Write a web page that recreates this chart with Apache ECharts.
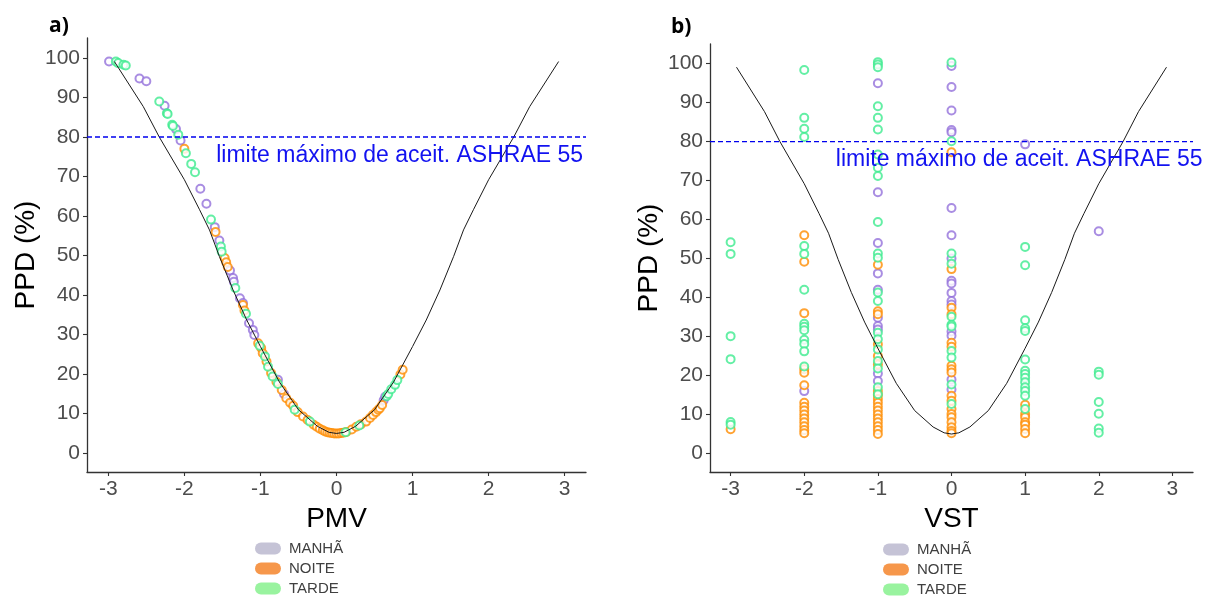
<!DOCTYPE html>
<html>
<head>
<meta charset="utf-8">
<script src="https://cdn.jsdelivr.net/npm/echarts@6/dist/echarts.min.js"></script>
<style>html,body{margin:0;padding:0;background:#fff;}#c{width:1213px;height:600px;}</style>
</head>
<body>
<div id="c"></div>
<script>
// ---- tick labels ----
const xTicks = [-3, -2, -1, 0, 1, 2, 3];
const yTicks = [0, 10, 20, 30, 40, 50, 60, 70, 80, 90, 100];
const groups = ['MANHÃ', 'NOITE', 'TARDE'];
const xRange = [-3.28, 3.28];
const yRange = [-4.75, 105.05];

// ---- reference curve ----
const curveX = [-2.92, -2.54, -2.33, -2.0, -1.8, -1.67, -1.54, -1.36, -1.18, -1.0, -0.75, -0.5, -0.25, -0.1, 0,
                0.1, 0.25, 0.5, 0.75, 1.0, 1.18, 1.36, 1.54, 1.67, 1.8, 2.0, 2.33, 2.54, 2.92];
const curveY = [99.1, 87.7, 80, 69.2, 61.6, 56.5, 49.8, 41.3, 33.7, 27, 18, 11, 6.8, 5.3, 5,
                5.3, 6.8, 11, 18, 27, 33.7, 41.3, 49.8, 56.5, 61.6, 69.2, 80, 87.7, 99.1];
const limitValue = 80;
const limitText = 'limite máximo de aceit. ASHRAE 55';

// ---- panel a) PMV vs PPD ----
const pmvManha = [[-2.99,99.1],[-2.59,94.8],[-2.50,94.1],[-2.26,87.9],[-2.11,82],[-2.05,79.1],[-1.79,66.9],
  [-1.71,63.1],[-1.60,57.2],[-1.54,53.8],[-1.40,46.2],[-1.36,44.3],[-1.35,43.4],[-1.27,39.2],[-1.23,38],
  [-1.15,32.9],[-1.10,31.2],[-1.08,29.9],[-0.77,18.6],[-0.69,15],[0.62,13.4],[0.64,14.3]];
const pmvNoite = [[-2.0,77],[-1.59,56],[-1.47,49.4],[-1.45,48.3],[-1.43,47.1],[-1.23,37.5],[-1.21,36.1],
  [-1.03,27.8],[-0.99,26.6],[-0.97,25.3],[-0.92,23.2],[-0.86,20.3],[-0.79,18.1],[-0.72,16],[-0.66,13.9],
  [-0.61,12.8],[-0.57,12],[-0.51,10.4],[-0.44,9.3],[-0.38,8.4],[-0.30,7.2],[-0.26,6.7],[-0.22,6.2],
  [-0.18,5.8],[-0.15,5.5],[-0.12,5.3],[-0.09,5.2],[-0.06,5.1],[-0.03,5],[0,5],[0.03,5],[0.06,5.1],
  [0.09,5.2],[0.13,5.4],[0.2,6],[0.26,6.7],[0.32,7.3],[0.39,8],[0.44,8.9],[0.48,9.7],[0.52,10.4],
  [0.55,11],[0.57,11.4],[0.60,12.2],[0.84,19.9],[0.87,21.1]];
const pmvTarde = [[-2.90,99.1],[-2.87,98.7],[-2.80,98.3],[-2.77,98.1],[-2.33,89],[-2.23,86],[-2.22,85.8],
  [-2.16,83.1],[-2.15,82.8],[-2.08,80.6],[-1.98,75.9],[-1.91,73.2],[-1.86,71.1],[-1.65,59.1],[-1.52,52.3],
  [-1.51,51],[-1.33,41.8],[-1.19,35.3],[-1.01,27.2],[-0.94,24.5],[-0.90,21.9],[-0.84,19.4],[-0.77,17.5],
  [-0.55,11],[-0.35,8.0],[0.12,5.3],[0.30,7],[0.66,14.4],[0.68,15],[0.72,16.2],[0.77,17.3],[0.80,18.5]];

// ---- panel b) VST vs PPD ----
const vstManha = [[-2,16],
  [-1,95],[-1,67],[-1,54],[-1,46.2],[-1,42],[-1,34.8],[-1,32.7],[-1,31.8],[-1,20.5],[-1,18.6],
  [0,99.4],[0,94],[0,88],[0,83],[0,82.4],[0,63],[0,56],[0,50],[0,44.3],[0,43.6],[0,41.2],[0,39.1],
  [0,38.2],[0,31.3],[0,30.2],[0,19],[0,16.4],
  [1,79.3],[2,57]];
const vstNoite = [[-3,6.2],
  [-2,56],[-2,49.2],[-2,36],[-2,21.6],[-2,20.7],[-2,17.5],[-2,13],[-2,12],[-2,11],[-2,10],[-2,9],
  [-2,8],[-2,7],[-2,6],[-2,5.2],
  [-1,48.4],[-1,36.5],[-1,35.7],[-1,28],[-1,25],[-1,22.8],[-1,16],[-1,15],[-1,14],[-1,13],[-1,12],
  [-1,11],[-1,10],[-1,9],[-1,8],[-1,7],[-1,6],[-1,5],
  [0,77.3],[0,47.3],[0,37.4],[0,35.7],[0,28.4],[0,27.4],[0,22.5],[0,21.6],[0,20.8],[0,14.8],[0,13.5],
  [0,11.4],[0,10.1],[0,9.3],[0,8],[0,6.7],[0,5.8],[0,5.2],
  [1,12.5],[1,10.1],[1,9.3],[1,8],[1,7.4],[1,6.3],[1,5.2]];
const vstTarde = [[-3,54.2],[-3,51.2],[-3,30.1],[-3,24.2],[-3,8.1],[-3,7.4],
  [-2,98.4],[-2,86.1],[-2,83.3],[-2,81.2],[-2,53.2],[-2,51.2],[-2,42],[-2,33.3],[-2,32.5],[-2,31.6],
  [-2,29.2],[-2,28.1],[-2,26.2],[-2,22.3],
  [-1,100.4],[-1,99.8],[-1,99.1],[-1,89.1],[-1,86.1],[-1,83.1],[-1,76.7],[-1,73.3],[-1,71.2],[-1,59.4],
  [-1,51.3],[-1,50.2],[-1,41.3],[-1,39.1],[-1,31],[-1,29.3],[-1,26.7],[-1,23.7],[-1,21.8],[-1,17],[-1,15.2],
  [0,100.3],[0,80.1],[0,51.3],[0,48.7],[0,35.1],[0,33],[0,32.6],[0,26.3],[0,24.6],[0,17.7],[0,12.7],
  [1,53],[1,48.3],[1,34.2],[1,32.1],[1,31.4],[1,24.1],[1,21.2],[1,20.4],[1,19.4],[1,18.3],[1,17],[1,16],
  [1,14.8],[1,11.4],
  [2,21],[2,20.2],[2,13.2],[2,10.2],[2,6.4],[2,5.3]];

const pointColors = {'MANHÃ': '#9370DB', 'NOITE': '#FF8C00', 'TARDE': '#3DEB8F'};
const legendColors = {'MANHÃ': '#b6b4cc', 'NOITE': '#f47d1e', 'TARDE': '#7ff087'};

const FONT = 'Liberation Sans, Arial, sans-serif';
const axisColor = '#333333';

function makeX(idx, name) {
  return {
    type: 'value', gridIndex: idx, min: xRange[0], max: xRange[1],
    name: name, nameLocation: 'middle', nameGap: 30,
    nameTextStyle: {fontSize: 28, color: '#000', fontFamily: FONT},
    axisLine: {show: true, onZero: false, lineStyle: {color: axisColor, width: 1.3}},
    axisTick: {show: true, length: 4, customValues: xTicks, lineStyle: {color: axisColor, width: 1.1}},
    axisLabel: {customValues: xTicks, fontSize: 21, color: '#4d4d4d', margin: 7, fontFamily: FONT},
    splitLine: {show: false}
  };
}
function makeY(idx) {
  return {
    type: 'value', gridIndex: idx, min: yRange[0], max: yRange[1],
    name: 'PPD (%)', nameLocation: 'middle', nameGap: 47,
    nameTextStyle: {fontSize: 28, color: '#000', fontFamily: FONT},
    axisLine: {show: true, onZero: false, lineStyle: {color: axisColor, width: 1.3}},
    axisTick: {show: true, length: 4, customValues: yTicks, lineStyle: {color: axisColor, width: 1.1}},
    axisLabel: {customValues: yTicks, fontSize: 21, color: '#4d4d4d', margin: 7, fontFamily: FONT},
    splitLine: {show: false}
  };
}
function pointSeries(name, data, idx) {
  return {
    type: 'scatter', name: name, xAxisIndex: idx, yAxisIndex: idx, data: data,
    symbol: 'emptyCircle', symbolSize: 8,
    itemStyle: {color: pointColors[name], borderColor: pointColors[name], borderWidth: 1},
    z: 2, silent: true
  };
}
function curveSeries(idx) {
  return {
    type: 'line', xAxisIndex: idx, yAxisIndex: idx,
    data: curveX.map((x, i) => [x, curveY[i]]),
    showSymbol: false, symbol: 'none', smooth: false, silent: true,
    lineStyle: {color: '#1a1a1a', width: 1}, z: 3
  };
}
function limitSeries(idx, labelX) {
  return {
    type: 'line', xAxisIndex: idx, yAxisIndex: idx,
    data: [[xRange[0], limitValue], [xRange[1], limitValue]],
    showSymbol: false, symbol: 'none', silent: true,
    itemStyle: {color: '#0000ee'},
    lineStyle: {color: '#0000ee', type: [5, 3], width: 1.3}, z: 4,
    markPoint: {
      silent: true, symbol: 'circle', symbolSize: 0, animation: false,
      label: {show: true, formatter: limitText, color: '#1212f0', fontSize: 23, fontFamily: FONT,
              position: 'inside'},
      data: [{coord: [labelX, 75.4]}]
    }
  };
}
const pill = 'path://M6,0 H20 A6,6 0 0 1 20,12 H6 A6,6 0 0 1 6,0 Z';
function legendData() {
  return groups.map(g => ({name: g, icon: pill, itemStyle: {color: legendColors[g], borderWidth: 0}}));
}
const legendText = {fontSize: 15, color: '#404040', fontFamily: FONT, lineHeight: 14, padding: [0, 0, 0, 3]};

const chart = echarts.init(document.getElementById('c'), null, {renderer: 'canvas'});
chart.setOption({
  animation: false,
  backgroundColor: '#ffffff',
  title: [
    {text: 'a)', left: 44, top: 11, textStyle: {fontSize: 21, fontWeight: 'bold', color: '#000', fontFamily: 'Open Sans, sans-serif'}},
    {text: 'b)', left: 666, top: 12, textStyle: {fontSize: 21, fontWeight: 'bold', color: '#000', fontFamily: 'Open Sans, sans-serif'}}
  ],
  grid: [
    {left: 87, top: 38, width: 499, height: 434, containLabel: false},
    {left: 710, top: 44, width: 483, height: 428, containLabel: false}
  ],
  xAxis: [makeX(0, 'PMV'), makeX(1, 'VST')],
  yAxis: [makeY(0), makeY(1)],
  legend: [
    {orient: 'vertical', left: 255, top: 541, itemWidth: 26, itemHeight: 12, itemGap: 5, padding: 0,
     textStyle: legendText, data: legendData(), selectedMode: false},
    {orient: 'vertical', left: 883, top: 542, itemWidth: 26, itemHeight: 12, itemGap: 5, padding: 0,
     textStyle: legendText, data: legendData(), selectedMode: false}
  ],
  series: [
    pointSeries('MANHÃ', pmvManha, 0),
    pointSeries('NOITE', pmvNoite, 0),
    pointSeries('TARDE', pmvTarde, 0),
    curveSeries(0),
    limitSeries(0, 0.83),
    pointSeries('MANHÃ', vstManha, 1),
    pointSeries('NOITE', vstNoite, 1),
    pointSeries('TARDE', vstTarde, 1),
    curveSeries(1),
    limitSeries(1, 0.92)
  ]
});
</script>
</body>
</html>
